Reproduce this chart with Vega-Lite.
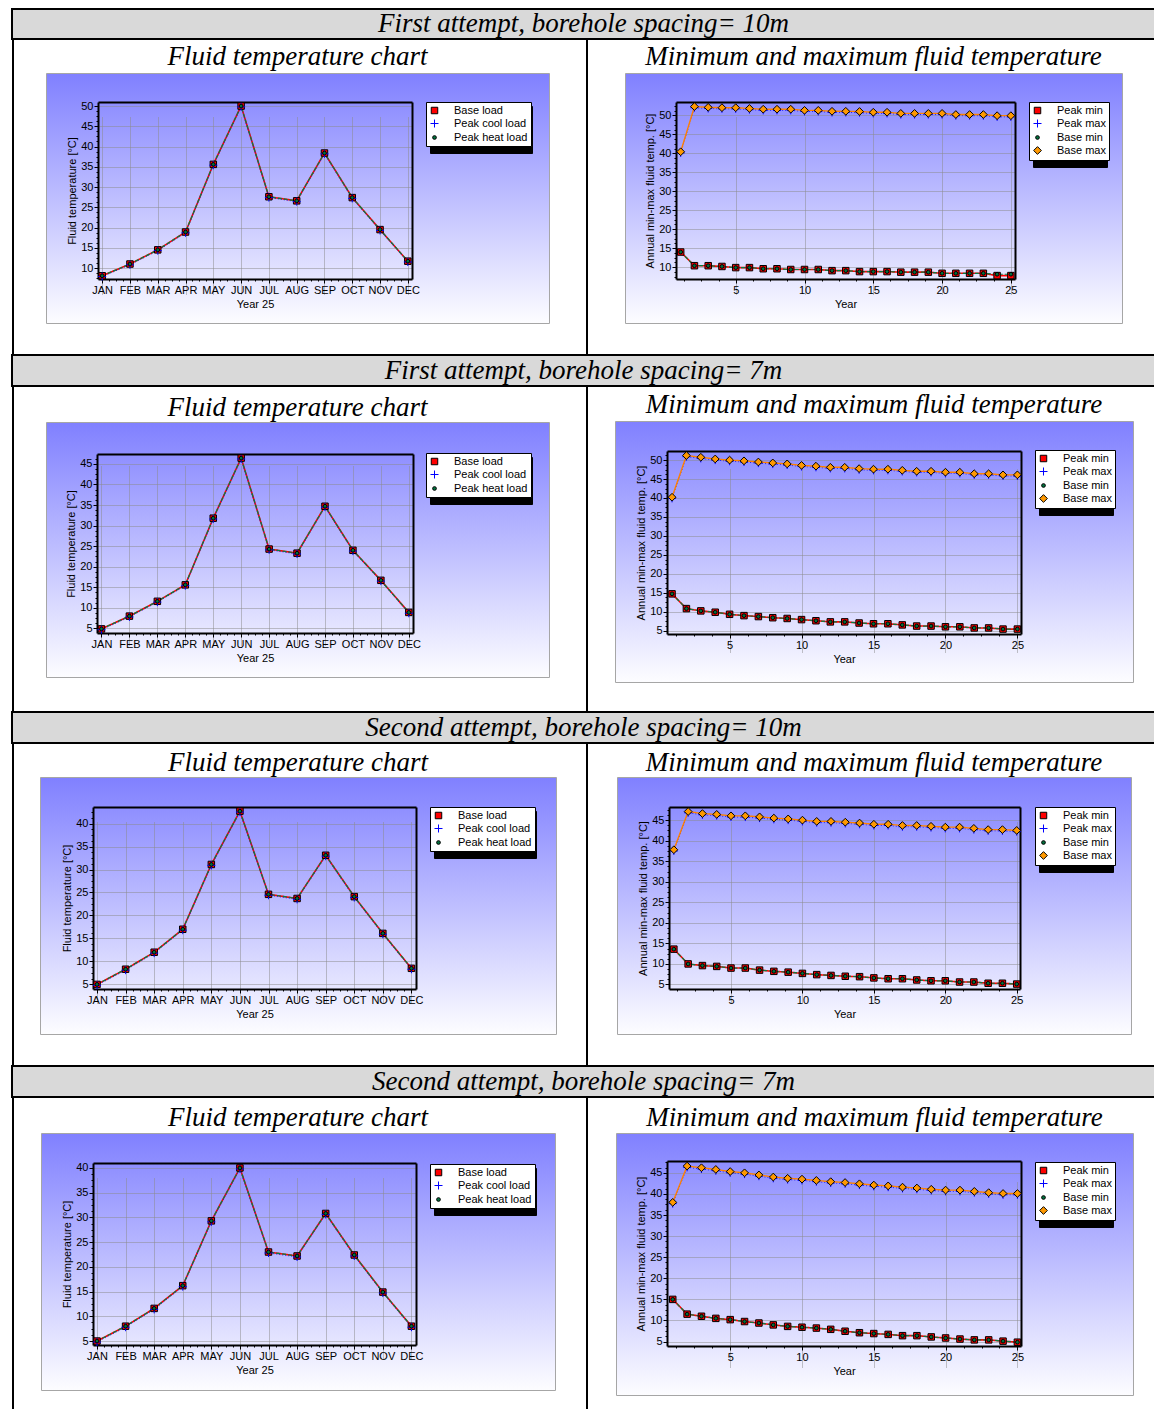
{
"$schema":"https://vega.github.io/schema/vega-lite/v6.json",
"padding":{"left":11,"top":8,"right":0,"bottom":0},
"background":"white",
"spacing":0,
"config":{
 "view":{"stroke":null},
 "axis":{"labelFont":"Liberation Sans","labelFontSize":11,"labelColor":"black","titleFont":"Liberation Sans","titleFontSize":11,"titleFontWeight":"normal","titleColor":"black","domainColor":"black","domainWidth":2,"tickColor":"black","tickWidth":1,"gridColor":"#8a8a8a","gridDash":[1,1],"gridWidth":1,"labelPadding":1,"labelOverlap":false,"labelFlush":false,"titlePadding":3},
 "legend":{"fillColor":"white","strokeColor":"black","padding":3,"labelFont":"Liberation Sans","labelFontSize":11,"labelColor":"black","rowPadding":1,"symbolStrokeWidth":1,"labelOffset":14,"labelLimit":200}
},
"datasets":{
 "m1":[{"m":1,"Base load":8.1,"Peak cool load":7.9,"Peak heat load":8.1},{"m":2,"Base load":11.0,"Peak cool load":10.8,"Peak heat load":11.0},{"m":3,"Base load":14.5,"Peak cool load":14.3,"Peak heat load":14.5},{"m":4,"Base load":18.9,"Peak cool load":18.7,"Peak heat load":18.9},{"m":5,"Base load":35.6,"Peak cool load":35.4,"Peak heat load":35.6},{"m":6,"Base load":50.0,"Peak cool load":49.8,"Peak heat load":50.0},{"m":7,"Base load":27.6,"Peak cool load":27.4,"Peak heat load":27.6},{"m":8,"Base load":26.6,"Peak cool load":26.4,"Peak heat load":26.6},{"m":9,"Base load":38.4,"Peak cool load":38.2,"Peak heat load":38.4},{"m":10,"Base load":27.4,"Peak cool load":27.2,"Peak heat load":27.4},{"m":11,"Base load":19.5,"Peak cool load":19.3,"Peak heat load":19.5},{"m":12,"Base load":11.7,"Peak cool load":11.5,"Peak heat load":11.7}],
 "m2":[{"m":1,"Base load":4.9,"Peak cool load":4.7,"Peak heat load":4.9},{"m":2,"Base load":8.0,"Peak cool load":7.8,"Peak heat load":8.0},{"m":3,"Base load":11.6,"Peak cool load":11.4,"Peak heat load":11.6},{"m":4,"Base load":15.6,"Peak cool load":15.4,"Peak heat load":15.6},{"m":5,"Base load":31.8,"Peak cool load":31.6,"Peak heat load":31.8},{"m":6,"Base load":46.4,"Peak cool load":46.2,"Peak heat load":46.4},{"m":7,"Base load":24.3,"Peak cool load":24.1,"Peak heat load":24.3},{"m":8,"Base load":23.3,"Peak cool load":23.1,"Peak heat load":23.3},{"m":9,"Base load":34.7,"Peak cool load":34.5,"Peak heat load":34.7},{"m":10,"Base load":24.0,"Peak cool load":23.8,"Peak heat load":24.0},{"m":11,"Base load":16.7,"Peak cool load":16.5,"Peak heat load":16.7},{"m":12,"Base load":8.9,"Peak cool load":8.7,"Peak heat load":8.9}],
 "m3":[{"m":1,"Base load":5.0,"Peak cool load":4.8,"Peak heat load":5.0},{"m":2,"Base load":8.3,"Peak cool load":8.1,"Peak heat load":8.3},{"m":3,"Base load":12.0,"Peak cool load":11.8,"Peak heat load":12.0},{"m":4,"Base load":17.0,"Peak cool load":16.8,"Peak heat load":17.0},{"m":5,"Base load":31.1,"Peak cool load":30.9,"Peak heat load":31.1},{"m":6,"Base load":42.7,"Peak cool load":42.5,"Peak heat load":42.7},{"m":7,"Base load":24.6,"Peak cool load":24.4,"Peak heat load":24.6},{"m":8,"Base load":23.7,"Peak cool load":23.5,"Peak heat load":23.7},{"m":9,"Base load":33.1,"Peak cool load":32.9,"Peak heat load":33.1},{"m":10,"Base load":24.1,"Peak cool load":23.9,"Peak heat load":24.1},{"m":11,"Base load":16.1,"Peak cool load":15.9,"Peak heat load":16.1},{"m":12,"Base load":8.5,"Peak cool load":8.3,"Peak heat load":8.5}],
 "m4":[{"m":1,"Base load":5.0,"Peak cool load":4.8,"Peak heat load":5.0},{"m":2,"Base load":8.0,"Peak cool load":7.8,"Peak heat load":8.0},{"m":3,"Base load":11.6,"Peak cool load":11.4,"Peak heat load":11.6},{"m":4,"Base load":16.2,"Peak cool load":16.0,"Peak heat load":16.2},{"m":5,"Base load":29.3,"Peak cool load":29.1,"Peak heat load":29.3},{"m":6,"Base load":40.0,"Peak cool load":39.8,"Peak heat load":40.0},{"m":7,"Base load":23.0,"Peak cool load":22.8,"Peak heat load":23.0},{"m":8,"Base load":22.2,"Peak cool load":22.0,"Peak heat load":22.2},{"m":9,"Base load":30.8,"Peak cool load":30.6,"Peak heat load":30.8},{"m":10,"Base load":22.4,"Peak cool load":22.2,"Peak heat load":22.4},{"m":11,"Base load":14.9,"Peak cool load":14.7,"Peak heat load":14.9},{"m":12,"Base load":8.0,"Peak cool load":7.8,"Peak heat load":8.0}],
 "y1":[{"yr":1,"Peak min":14.0,"Peak max":40.1,"Base min":14.0,"Base max":40.4},{"yr":2,"Peak min":10.4,"Peak max":52.0,"Base min":10.4,"Base max":52.3},{"yr":3,"Peak min":10.4,"Peak max":51.8,"Base min":10.4,"Base max":52.1},{"yr":4,"Peak min":10.2,"Peak max":51.7,"Base min":10.2,"Base max":52.0},{"yr":5,"Peak min":9.9,"Peak max":51.7,"Base min":9.9,"Base max":52.0},{"yr":6,"Peak min":9.9,"Peak max":51.5,"Base min":9.9,"Base max":51.8},{"yr":7,"Peak min":9.6,"Peak max":51.3,"Base min":9.6,"Base max":51.6},{"yr":8,"Peak min":9.6,"Peak max":51.3,"Base min":9.6,"Base max":51.6},{"yr":9,"Peak min":9.4,"Peak max":51.3,"Base min":9.4,"Base max":51.6},{"yr":10,"Peak min":9.4,"Peak max":51.0,"Base min":9.4,"Base max":51.3},{"yr":11,"Peak min":9.4,"Peak max":51.0,"Base min":9.4,"Base max":51.3},{"yr":12,"Peak min":9.1,"Peak max":50.75,"Base min":9.1,"Base max":51.05},{"yr":13,"Peak min":9.1,"Peak max":50.75,"Base min":9.1,"Base max":51.05},{"yr":14,"Peak min":8.85,"Peak max":50.7,"Base min":8.85,"Base max":51.0},{"yr":15,"Peak min":8.85,"Peak max":50.5,"Base min":8.85,"Base max":50.8},{"yr":16,"Peak min":8.85,"Peak max":50.5,"Base min":8.85,"Base max":50.8},{"yr":17,"Peak min":8.7,"Peak max":50.2,"Base min":8.7,"Base max":50.5},{"yr":18,"Peak min":8.7,"Peak max":50.2,"Base min":8.7,"Base max":50.5},{"yr":19,"Peak min":8.7,"Peak max":50.2,"Base min":8.7,"Base max":50.5},{"yr":20,"Peak min":8.4,"Peak max":50.2,"Base min":8.4,"Base max":50.5},{"yr":21,"Peak min":8.4,"Peak max":49.9,"Base min":8.4,"Base max":50.2},{"yr":22,"Peak min":8.4,"Peak max":49.9,"Base min":8.4,"Base max":50.2},{"yr":23,"Peak min":8.4,"Peak max":49.9,"Base min":8.4,"Base max":50.2},{"yr":24,"Peak min":7.8,"Peak max":49.6,"Base min":8.15,"Base max":49.9},{"yr":25,"Peak min":7.8,"Peak max":49.6,"Base min":8.15,"Base max":49.9}],
 "y2":[{"yr":1,"Peak min":14.7,"Peak max":39.9,"Base min":14.7,"Base max":40.2},{"yr":2,"Peak min":10.8,"Peak max":50.9,"Base min":10.8,"Base max":51.2},{"yr":3,"Peak min":10.2,"Peak max":50.45,"Base min":10.2,"Base max":50.75},{"yr":4,"Peak min":9.85,"Peak max":50.0,"Base min":9.85,"Base max":50.3},{"yr":5,"Peak min":9.3,"Peak max":49.7,"Base min":9.3,"Base max":50.0},{"yr":6,"Peak min":8.95,"Peak max":49.5,"Base min":8.95,"Base max":49.8},{"yr":7,"Peak min":8.7,"Peak max":49.2,"Base min":8.7,"Base max":49.5},{"yr":8,"Peak min":8.4,"Peak max":48.95,"Base min":8.4,"Base max":49.25},{"yr":9,"Peak min":8.2,"Peak max":48.7,"Base min":8.2,"Base max":49.0},{"yr":10,"Peak min":7.9,"Peak max":48.3,"Base min":7.9,"Base max":48.6},{"yr":11,"Peak min":7.6,"Peak max":48.1,"Base min":7.6,"Base max":48.4},{"yr":12,"Peak min":7.3,"Peak max":47.8,"Base min":7.3,"Base max":48.1},{"yr":13,"Peak min":7.3,"Peak max":47.8,"Base min":7.3,"Base max":48.1},{"yr":14,"Peak min":7.0,"Peak max":47.45,"Base min":7.0,"Base max":47.75},{"yr":15,"Peak min":6.8,"Peak max":47.3,"Base min":6.8,"Base max":47.6},{"yr":16,"Peak min":6.8,"Peak max":47.3,"Base min":6.8,"Base max":47.6},{"yr":17,"Peak min":6.5,"Peak max":47.0,"Base min":6.5,"Base max":47.3},{"yr":18,"Peak min":6.2,"Peak max":46.75,"Base min":6.2,"Base max":47.05},{"yr":19,"Peak min":6.2,"Peak max":46.75,"Base min":6.2,"Base max":47.05},{"yr":20,"Peak min":6.0,"Peak max":46.5,"Base min":6.0,"Base max":46.8},{"yr":21,"Peak min":6.0,"Peak max":46.5,"Base min":6.0,"Base max":46.8},{"yr":22,"Peak min":5.7,"Peak max":46.1,"Base min":5.7,"Base max":46.4},{"yr":23,"Peak min":5.7,"Peak max":46.1,"Base min":5.7,"Base max":46.4},{"yr":24,"Peak min":5.4,"Peak max":45.8,"Base min":5.4,"Base max":46.1},{"yr":25,"Peak min":5.4,"Peak max":45.8,"Base min":5.4,"Base max":46.1}],
 "y3":[{"yr":1,"Peak min":13.6,"Peak max":37.5,"Base min":13.6,"Base max":37.8},{"yr":2,"Peak min":10.0,"Peak max":46.8,"Base min":10.0,"Base max":47.1},{"yr":3,"Peak min":9.6,"Peak max":46.3,"Base min":9.6,"Base max":46.6},{"yr":4,"Peak min":9.4,"Peak max":46.1,"Base min":9.4,"Base max":46.4},{"yr":5,"Peak min":9.0,"Peak max":45.75,"Base min":9.0,"Base max":46.05},{"yr":6,"Peak min":9.0,"Peak max":45.75,"Base min":9.0,"Base max":46.05},{"yr":7,"Peak min":8.5,"Peak max":45.5,"Base min":8.5,"Base max":45.8},{"yr":8,"Peak min":8.2,"Peak max":45.2,"Base min":8.2,"Base max":45.5},{"yr":9,"Peak min":8.0,"Peak max":45.0,"Base min":8.0,"Base max":45.3},{"yr":10,"Peak min":7.7,"Peak max":44.7,"Base min":7.7,"Base max":45.0},{"yr":11,"Peak min":7.4,"Peak max":44.4,"Base min":7.4,"Base max":44.7},{"yr":12,"Peak min":7.2,"Peak max":44.4,"Base min":7.2,"Base max":44.7},{"yr":13,"Peak min":7.0,"Peak max":44.2,"Base min":7.0,"Base max":44.5},{"yr":14,"Peak min":6.9,"Peak max":44.0,"Base min":6.9,"Base max":44.3},{"yr":15,"Peak min":6.6,"Peak max":43.7,"Base min":6.6,"Base max":44.0},{"yr":16,"Peak min":6.4,"Peak max":43.7,"Base min":6.4,"Base max":44.0},{"yr":17,"Peak min":6.4,"Peak max":43.4,"Base min":6.4,"Base max":43.7},{"yr":18,"Peak min":6.1,"Peak max":43.4,"Base min":6.1,"Base max":43.7},{"yr":19,"Peak min":5.9,"Peak max":43.2,"Base min":5.9,"Base max":43.5},{"yr":20,"Peak min":5.9,"Peak max":43.0,"Base min":5.9,"Base max":43.3},{"yr":21,"Peak min":5.6,"Peak max":43.0,"Base min":5.6,"Base max":43.3},{"yr":22,"Peak min":5.6,"Peak max":42.7,"Base min":5.6,"Base max":43.0},{"yr":23,"Peak min":5.3,"Peak max":42.4,"Base min":5.3,"Base max":42.7},{"yr":24,"Peak min":5.3,"Peak max":42.4,"Base min":5.3,"Base max":42.7},{"yr":25,"Peak min":5.1,"Peak max":42.2,"Base min":5.1,"Base max":42.5}],
 "y4":[{"yr":1,"Peak min":15.0,"Peak max":37.7,"Base min":15.0,"Base max":38.0},{"yr":2,"Peak min":11.5,"Peak max":46.3,"Base min":11.5,"Base max":46.6},{"yr":3,"Peak min":11.0,"Peak max":45.9,"Base min":11.0,"Base max":46.2},{"yr":4,"Peak min":10.5,"Peak max":45.5,"Base min":10.5,"Base max":45.8},{"yr":5,"Peak min":10.2,"Peak max":45.0,"Base min":10.2,"Base max":45.3},{"yr":6,"Peak min":9.75,"Peak max":44.7,"Base min":9.75,"Base max":45.0},{"yr":7,"Peak min":9.4,"Peak max":44.2,"Base min":9.4,"Base max":44.5},{"yr":8,"Peak min":8.95,"Peak max":43.7,"Base min":8.95,"Base max":44.0},{"yr":9,"Peak min":8.6,"Peak max":43.4,"Base min":8.6,"Base max":43.7},{"yr":10,"Peak min":8.4,"Peak max":43.2,"Base min":8.4,"Base max":43.5},{"yr":11,"Peak min":8.2,"Peak max":42.9,"Base min":8.2,"Base max":43.2},{"yr":12,"Peak min":7.9,"Peak max":42.6,"Base min":7.9,"Base max":42.9},{"yr":13,"Peak min":7.45,"Peak max":42.4,"Base min":7.45,"Base max":42.7},{"yr":14,"Peak min":7.1,"Peak max":42.1,"Base min":7.1,"Base max":42.4},{"yr":15,"Peak min":6.9,"Peak max":41.8,"Base min":6.9,"Base max":42.1},{"yr":16,"Peak min":6.7,"Peak max":41.6,"Base min":6.7,"Base max":41.9},{"yr":17,"Peak min":6.4,"Peak max":41.3,"Base min":6.4,"Base max":41.6},{"yr":18,"Peak min":6.4,"Peak max":41.1,"Base min":6.4,"Base max":41.4},{"yr":19,"Peak min":6.1,"Peak max":40.8,"Base min":6.1,"Base max":41.1},{"yr":20,"Peak min":5.85,"Peak max":40.6,"Base min":5.85,"Base max":40.9},{"yr":21,"Peak min":5.6,"Peak max":40.6,"Base min":5.6,"Base max":40.9},{"yr":22,"Peak min":5.4,"Peak max":40.3,"Base min":5.4,"Base max":40.6},{"yr":23,"Peak min":5.4,"Peak max":40.0,"Base min":5.4,"Base max":40.3},{"yr":24,"Peak min":5.1,"Peak max":39.8,"Base min":5.1,"Base max":40.1},{"yr":25,"Peak min":4.85,"Peak max":39.8,"Base min":4.85,"Base max":40.1}]
},
"resolve":{"scale":{"color":"independent","fill":"independent","stroke":"independent","shape":"independent","size":"independent","strokeDash":"independent","strokeWidth":"independent"}},
"vconcat":[
 {"width":1143,"height":30,"view":{"fill":"#d9d9d9","stroke":"black","strokeWidth":2},"data":{"values":[{"t":"First attempt, borehole spacing= 10m"}]},"mark":{"type":"text","font":"Liberation Serif","fontStyle":"italic","fontSize":27,"color":"black"},"encoding":{"text":{"field":"t"}}},
 {"spacing":36,"resolve":{"scale":{"color":"independent","fill":"independent","stroke":"independent","shape":"independent","size":"independent","strokeDash":"independent","strokeWidth":"independent"}},
  "hconcat":[
  {"spacing":31,"resolve":{"scale":{"color":"independent","fill":"independent","stroke":"independent","shape":"independent","size":"independent","strokeDash":"independent","strokeWidth":"independent"}},"hconcat":[
   {"width":2,"height":314,"view":{"fill":"black"},"data":{"values":[]},"mark":"rect","encoding":{}},
   {"spacing":0,"resolve":{"scale":{"color":"independent","fill":"independent","stroke":"independent","shape":"independent","size":"independent","strokeDash":"independent","strokeWidth":"independent"}},"vconcat":[
    {"width":503,"height":32,"data":{"values":[{"t":"Fluid temperature chart"}]},"mark":{"type":"text","font":"Liberation Serif","fontStyle":"italic","fontSize":27,"color":"black","dy":1},"encoding":{"text":{"field":"t"}}},
    {"width":503,"height":250,
     "view":{"fill":{"gradient":"linear","x1":0,"y1":0,"x2":0,"y2":1,"stops":[{"offset":0,"color":"#8080ff"},{"offset":1,"color":"#fdfdff"}]},"stroke":"#a6a6a6"},
     "data":{"name":"m1"},
     "transform":[{"fold":["Base load","Peak cool load","Peak heat load"],"as":["series","temp"]}],
     "layer":[
      {"mark":{"type":"line"},
       "encoding":{
        "x":{"field":"m","type":"quantitative","scale":{"domain":[0.85,12.15],"range":[52,366],"nice":false,"zero":false},
         "axis":{"orient":"bottom","offset":-44,"title":"Year 25","values":[1,1.25,1.5,1.75,2,2.25,2.5,2.75,3,3.25,3.5,3.75,4,4.25,4.5,4.75,5,5.25,5.5,5.75,6,6.25,6.5,6.75,7,7.25,7.5,7.75,8,8.25,8.5,8.75,9,9.25,9.5,9.75,10,10.25,10.5,10.75,11,11.25,11.5,11.75,12],"labelExpr":"datum.value % 1 == 0 ? ['JAN','FEB','MAR','APR','MAY','JUN','JUL','AUG','SEP','OCT','NOV','DEC'][datum.value - 1] : ''","tickSize":{"condition":{"test":"datum.value % 1 != 0","value":2},"value":4},"gridOpacity":{"condition":{"test":"datum.value % 1 != 0","value":0},"value":1}}},
        "y":{"field":"temp","type":"quantitative","scale":{"domain":[7.3,51],"range":[206,29],"nice":false,"zero":false},
         "axis":{"orient":"left","offset":-52,"title":"Fluid temperature [°C]","values":[7.5,8.75,10,11.25,12.5,13.75,15,16.25,17.5,18.75,20,21.25,22.5,23.75,25,26.25,27.5,28.75,30,31.25,32.5,33.75,35,36.25,37.5,38.75,40,41.25,42.5,43.75,45,46.25,47.5,48.75,50],"labelExpr":"datum.value % 5 == 0 ? datum.label : ''","tickSize":{"condition":{"test":"datum.value % 5 != 0","value":2},"value":4},"gridOpacity":{"condition":{"test":"datum.value % 5 != 0","value":0},"value":1}}},
        "color":{"field":"series","type":"nominal","scale":{"domain":["Peak heat load","Peak cool load","Base load"],"range":["#008040","#0000ff","#ff0000"]},"legend":{"orient":"none","legendX":384,"legendY":33,"title":null,"fillColor":"black","strokeColor":"black","labelExpr":"''","symbolType":"square","symbolSize":151,"symbolFillColor":"black","symbolStrokeWidth":0,"labelOffset":83}},
        "strokeDash":{"field":"series","type":"nominal","scale":{"domain":["Peak heat load","Peak cool load","Base load"],"range":[[4,2],[1,2],[1,0]]},"legend":{"orient":"none","legendX":384,"legendY":33,"title":null,"fillColor":"black","strokeColor":"black","labelExpr":"''","symbolType":"square","symbolSize":151,"symbolFillColor":"black","symbolStrokeWidth":0,"labelOffset":83}},
        "strokeWidth":{"field":"series","type":"nominal","scale":{"type":"ordinal","domain":["Peak cool load","Base load","Peak heat load"],"range":[0.8,1.6,1.2]},"legend":null}}},
      {"mark":{"type":"point","filled":true,"opacity":1,"strokeWidth":1},
       "encoding":{
        "x":{"field":"m","type":"quantitative","axis":{"orient":"top","offset":-29,"labels":false,"ticks":false,"grid":false,"title":null,"values":[]}},
        "y":{"field":"temp","type":"quantitative","axis":{"orient":"right","offset":-137,"labels":false,"ticks":false,"grid":false,"title":null,"values":[]}},
        "shape":{"field":"series","type":"nominal","scale":{"domain":["Base load","Peak cool load","Peak heat load"],"range":["square","M-1,0H1M0,-1V1","circle"]},"legend":{"orient":"none","legendX":380,"legendY":29,"title":null}},
        "fill":{"field":"series","type":"nominal","scale":{"domain":["Base load","Peak cool load","Peak heat load"],"range":["#ff0000","#0000ff","#00703c"]},"legend":{"orient":"none","legendX":380,"legendY":29,"title":null}},
        "stroke":{"field":"series","type":"nominal","scale":{"domain":["Base load","Peak cool load","Peak heat load"],"range":["#000000","#0000ff","#000000"]},"legend":{"orient":"none","legendX":380,"legendY":29,"title":null}},
        "size":{"field":"series","type":"nominal","scale":{"type":"ordinal","domain":["Base load","Peak cool load","Peak heat load"],"range":[42,64,14]},"legend":{"orient":"none","legendX":380,"legendY":29,"title":null}}}}
     ],
     "resolve":{"axis":{"x":"independent","y":"independent"}}}
   ]}
  ]},
  {"spacing":36,"resolve":{"scale":{"color":"independent","fill":"independent","stroke":"independent","shape":"independent","size":"independent","strokeDash":"independent","strokeWidth":"independent"}},"hconcat":[
   {"width":2,"height":314,"view":{"fill":"black"},"data":{"values":[]},"mark":"rect","encoding":{}},
   {"spacing":0,"resolve":{"scale":{"color":"independent","fill":"independent","stroke":"independent","shape":"independent","size":"independent","strokeDash":"independent","strokeWidth":"independent"}},"vconcat":[
    {"width":497,"height":32,"data":{"values":[{"t":"Minimum and maximum fluid temperature"}]},"mark":{"type":"text","font":"Liberation Serif","fontStyle":"italic","fontSize":27,"color":"black","dy":1},"encoding":{"text":{"field":"t"}}},
    {"width":497,"height":250,
     "view":{"fill":{"gradient":"linear","x1":0,"y1":0,"x2":0,"y2":1,"stops":[{"offset":0,"color":"#8080ff"},{"offset":1,"color":"#fdfdff"}]},"stroke":"#a6a6a6"},
     "data":{"name":"y1"},
     "transform":[{"fold":["Peak min","Peak max","Base min","Base max"],"as":["series","temp"]}],
     "layer":[
      {"mark":{"type":"line"},
       "encoding":{
        "x":{"field":"yr","type":"quantitative","scale":{"domain":[0.66,25.3],"range":[51,390],"nice":false,"zero":false},
         "axis":{"orient":"bottom","offset":-44,"title":"Year","values":[1.25,2.5,3.75,5,6.25,7.5,8.75,10,11.25,12.5,13.75,15,16.25,17.5,18.75,20,21.25,22.5,23.75,25],"labelExpr":"datum.value % 5 == 0 ? datum.label : ''","tickSize":{"condition":{"test":"datum.value % 5 != 0","value":2},"value":4},"gridOpacity":{"condition":{"test":"datum.value % 5 != 0","value":0},"value":1}}},
        "y":{"field":"temp","type":"quantitative","scale":{"domain":[6.9,53.5],"range":[206,29],"nice":false,"zero":false},
         "axis":{"orient":"left","offset":-51,"title":"Annual min-max fluid temp. [°C]","values":[7.5,8.75,10,11.25,12.5,13.75,15,16.25,17.5,18.75,20,21.25,22.5,23.75,25,26.25,27.5,28.75,30,31.25,32.5,33.75,35,36.25,37.5,38.75,40,41.25,42.5,43.75,45,46.25,47.5,48.75,50,51.25,52.5],"labelExpr":"datum.value % 5 == 0 ? datum.label : ''","tickSize":{"condition":{"test":"datum.value % 5 != 0","value":2},"value":4},"gridOpacity":{"condition":{"test":"datum.value % 5 != 0","value":0},"value":1}}},
        "color":{"field":"series","type":"nominal","scale":{"domain":["Base max","Base min","Peak max","Peak min"],"range":["#ff8000","#008040","#0000ff","#ff0000"]},"legend":{"orient":"none","legendX":408,"legendY":33,"title":null,"fillColor":"black","strokeColor":"black","labelExpr":"''","symbolType":"square","symbolSize":151,"symbolFillColor":"black","symbolStrokeWidth":0,"labelOffset":55}},
        "strokeDash":{"field":"series","type":"nominal","scale":{"domain":["Base max","Base min","Peak max","Peak min"],"range":[[1,0],[4,2],[1,2],[1,0]]},"legend":{"orient":"none","legendX":408,"legendY":33,"title":null,"fillColor":"black","strokeColor":"black","labelExpr":"''","symbolType":"square","symbolSize":151,"symbolFillColor":"black","symbolStrokeWidth":0,"labelOffset":55}},
        "strokeWidth":{"field":"series","type":"nominal","scale":{"type":"ordinal","domain":["Peak max","Peak min","Base min","Base max"],"range":[0.8,1.6,1.2,1.4]},"legend":null}}},
      {"mark":{"type":"point","filled":true,"opacity":1,"strokeWidth":1},
       "encoding":{
        "x":{"field":"yr","type":"quantitative","axis":{"orient":"top","offset":-29,"labels":false,"ticks":false,"grid":false,"title":null,"values":[]}},
        "y":{"field":"temp","type":"quantitative","axis":{"orient":"right","offset":-107,"labels":false,"ticks":false,"grid":false,"title":null,"values":[]}},
        "shape":{"field":"series","type":"nominal","scale":{"domain":["Peak min","Peak max","Base min","Base max"],"range":["square","M-1,0H1M0,-1V1","circle","diamond"]},"legend":{"orient":"none","legendX":404,"legendY":29,"title":null}},
        "fill":{"field":"series","type":"nominal","scale":{"domain":["Peak min","Peak max","Base min","Base max"],"range":["#ff0000","#0000ff","#00703c","#ff9900"]},"legend":{"orient":"none","legendX":404,"legendY":29,"title":null}},
        "stroke":{"field":"series","type":"nominal","scale":{"domain":["Peak min","Peak max","Base min","Base max"],"range":["#000000","#0000ff","#000000","#000000"]},"legend":{"orient":"none","legendX":404,"legendY":29,"title":null}},
        "size":{"field":"series","type":"nominal","scale":{"type":"ordinal","domain":["Peak min","Peak max","Base min","Base max"],"range":[42,64,14,60]},"legend":{"orient":"none","legendX":404,"legendY":29,"title":null}}}}
     ],
     "resolve":{"axis":{"x":"independent","y":"independent"}}}
   ]}
  ]}
 ]},
 {"width":1143,"height":31,"view":{"fill":"#d9d9d9","stroke":"black","strokeWidth":2},"data":{"values":[{"t":"First attempt, borehole spacing= 7m"}]},"mark":{"type":"text","font":"Liberation Serif","fontStyle":"italic","fontSize":27,"color":"black"},"encoding":{"text":{"field":"t"}}},
 {"spacing":36,"resolve":{"scale":{"color":"independent","fill":"independent","stroke":"independent","shape":"independent","size":"independent","strokeDash":"independent","strokeWidth":"independent"}},
  "hconcat":[
  {"spacing":31,"resolve":{"scale":{"color":"independent","fill":"independent","stroke":"independent","shape":"independent","size":"independent","strokeDash":"independent","strokeWidth":"independent"}},"hconcat":[
   {"width":2,"height":324,"view":{"fill":"black"},"data":{"values":[]},"mark":"rect","encoding":{}},
   {"spacing":0,"resolve":{"scale":{"color":"independent","fill":"independent","stroke":"independent","shape":"independent","size":"independent","strokeDash":"independent","strokeWidth":"independent"}},"vconcat":[
    {"width":503,"height":33,"data":{"values":[{"t":"Fluid temperature chart"}]},"mark":{"type":"text","font":"Liberation Serif","fontStyle":"italic","fontSize":27,"color":"black","dy":4},"encoding":{"text":{"field":"t"}}},
    {"width":503,"height":255,
     "view":{"fill":{"gradient":"linear","x1":0,"y1":0,"x2":0,"y2":1,"stops":[{"offset":0,"color":"#8080ff"},{"offset":1,"color":"#fdfdff"}]},"stroke":"#a6a6a6"},
     "data":{"name":"m2"},
     "transform":[{"fold":["Base load","Peak cool load","Peak heat load"],"as":["series","temp"]}],
     "layer":[
      {"mark":{"type":"line"},
       "encoding":{
        "x":{"field":"m","type":"quantitative","scale":{"domain":[0.84,12.15],"range":[51,367],"nice":false,"zero":false},
         "axis":{"orient":"bottom","offset":-44,"title":"Year 25","values":[1,1.25,1.5,1.75,2,2.25,2.5,2.75,3,3.25,3.5,3.75,4,4.25,4.5,4.75,5,5.25,5.5,5.75,6,6.25,6.5,6.75,7,7.25,7.5,7.75,8,8.25,8.5,8.75,9,9.25,9.5,9.75,10,10.25,10.5,10.75,11,11.25,11.5,11.75,12],"labelExpr":"datum.value % 1 == 0 ? ['JAN','FEB','MAR','APR','MAY','JUN','JUL','AUG','SEP','OCT','NOV','DEC'][datum.value - 1] : ''","tickSize":{"condition":{"test":"datum.value % 1 != 0","value":2},"value":4},"gridOpacity":{"condition":{"test":"datum.value % 1 != 0","value":0},"value":1}}},
        "y":{"field":"temp","type":"quantitative","scale":{"domain":[3.9,47.4],"range":[211,32],"nice":false,"zero":false},
         "axis":{"orient":"left","offset":-51,"title":"Fluid temperature [°C]","values":[5,6.25,7.5,8.75,10,11.25,12.5,13.75,15,16.25,17.5,18.75,20,21.25,22.5,23.75,25,26.25,27.5,28.75,30,31.25,32.5,33.75,35,36.25,37.5,38.75,40,41.25,42.5,43.75,45,46.25],"labelExpr":"datum.value % 5 == 0 ? datum.label : ''","tickSize":{"condition":{"test":"datum.value % 5 != 0","value":2},"value":4},"gridOpacity":{"condition":{"test":"datum.value % 5 != 0","value":0},"value":1}}},
        "color":{"field":"series","type":"nominal","scale":{"domain":["Peak heat load","Peak cool load","Base load"],"range":["#008040","#0000ff","#ff0000"]},"legend":{"orient":"none","legendX":384,"legendY":35,"title":null,"fillColor":"black","strokeColor":"black","labelExpr":"''","symbolType":"square","symbolSize":151,"symbolFillColor":"black","symbolStrokeWidth":0,"labelOffset":83}},
        "strokeDash":{"field":"series","type":"nominal","scale":{"domain":["Peak heat load","Peak cool load","Base load"],"range":[[4,2],[1,2],[1,0]]},"legend":{"orient":"none","legendX":384,"legendY":35,"title":null,"fillColor":"black","strokeColor":"black","labelExpr":"''","symbolType":"square","symbolSize":151,"symbolFillColor":"black","symbolStrokeWidth":0,"labelOffset":83}},
        "strokeWidth":{"field":"series","type":"nominal","scale":{"type":"ordinal","domain":["Peak cool load","Base load","Peak heat load"],"range":[0.8,1.6,1.2]},"legend":null}}},
      {"mark":{"type":"point","filled":true,"opacity":1,"strokeWidth":1},
       "encoding":{
        "x":{"field":"m","type":"quantitative","axis":{"orient":"top","offset":-32,"labels":false,"ticks":false,"grid":false,"title":null,"values":[]}},
        "y":{"field":"temp","type":"quantitative","axis":{"orient":"right","offset":-136,"labels":false,"ticks":false,"grid":false,"title":null,"values":[]}},
        "shape":{"field":"series","type":"nominal","scale":{"domain":["Base load","Peak cool load","Peak heat load"],"range":["square","M-1,0H1M0,-1V1","circle"]},"legend":{"orient":"none","legendX":380,"legendY":31,"title":null}},
        "fill":{"field":"series","type":"nominal","scale":{"domain":["Base load","Peak cool load","Peak heat load"],"range":["#ff0000","#0000ff","#00703c"]},"legend":{"orient":"none","legendX":380,"legendY":31,"title":null}},
        "stroke":{"field":"series","type":"nominal","scale":{"domain":["Base load","Peak cool load","Peak heat load"],"range":["#000000","#0000ff","#000000"]},"legend":{"orient":"none","legendX":380,"legendY":31,"title":null}},
        "size":{"field":"series","type":"nominal","scale":{"type":"ordinal","domain":["Base load","Peak cool load","Peak heat load"],"range":[42,64,14]},"legend":{"orient":"none","legendX":380,"legendY":31,"title":null}}}}
     ],
     "resolve":{"axis":{"x":"independent","y":"independent"}}}
   ]}
  ]},
  {"spacing":26,"resolve":{"scale":{"color":"independent","fill":"independent","stroke":"independent","shape":"independent","size":"independent","strokeDash":"independent","strokeWidth":"independent"}},"hconcat":[
   {"width":2,"height":324,"view":{"fill":"black"},"data":{"values":[]},"mark":"rect","encoding":{}},
   {"spacing":0,"resolve":{"scale":{"color":"independent","fill":"independent","stroke":"independent","shape":"independent","size":"independent","strokeDash":"independent","strokeWidth":"independent"}},"vconcat":[
    {"width":518,"height":33,"data":{"values":[{"t":"Minimum and maximum fluid temperature"}]},"mark":{"type":"text","font":"Liberation Serif","fontStyle":"italic","fontSize":27,"color":"black","dy":1},"encoding":{"text":{"field":"t"}}},
    {"width":518,"height":261,
     "view":{"fill":{"gradient":"linear","x1":0,"y1":0,"x2":0,"y2":1,"stops":[{"offset":0,"color":"#8080ff"},{"offset":1,"color":"#fdfdff"}]},"stroke":"#a6a6a6"},
     "data":{"name":"y2"},
     "transform":[{"fold":["Peak min","Peak max","Base min","Base max"],"as":["series","temp"]}],
     "layer":[
      {"mark":{"type":"line"},
       "encoding":{
        "x":{"field":"yr","type":"quantitative","scale":{"domain":[0.65,25.25],"range":[52,406],"nice":false,"zero":false},
         "axis":{"orient":"bottom","offset":-48,"title":"Year","values":[1.25,2.5,3.75,5,6.25,7.5,8.75,10,11.25,12.5,13.75,15,16.25,17.5,18.75,20,21.25,22.5,23.75,25],"labelExpr":"datum.value % 5 == 0 ? datum.label : ''","tickSize":{"condition":{"test":"datum.value % 5 != 0","value":2},"value":4},"gridOpacity":{"condition":{"test":"datum.value % 5 != 0","value":0},"value":1}}},
        "y":{"field":"temp","type":"quantitative","scale":{"domain":[4.1,52.4],"range":[213,30],"nice":false,"zero":false},
         "axis":{"orient":"left","offset":-52,"title":"Annual min-max fluid temp. [°C]","values":[5,6.25,7.5,8.75,10,11.25,12.5,13.75,15,16.25,17.5,18.75,20,21.25,22.5,23.75,25,26.25,27.5,28.75,30,31.25,32.5,33.75,35,36.25,37.5,38.75,40,41.25,42.5,43.75,45,46.25,47.5,48.75,50,51.25],"labelExpr":"datum.value % 5 == 0 ? datum.label : ''","tickSize":{"condition":{"test":"datum.value % 5 != 0","value":2},"value":4},"gridOpacity":{"condition":{"test":"datum.value % 5 != 0","value":0},"value":1}}},
        "color":{"field":"series","type":"nominal","scale":{"domain":["Base max","Base min","Peak max","Peak min"],"range":["#ff8000","#008040","#0000ff","#ff0000"]},"legend":{"orient":"none","legendX":424,"legendY":33,"title":null,"fillColor":"black","strokeColor":"black","labelExpr":"''","symbolType":"square","symbolSize":151,"symbolFillColor":"black","symbolStrokeWidth":0,"labelOffset":55}},
        "strokeDash":{"field":"series","type":"nominal","scale":{"domain":["Base max","Base min","Peak max","Peak min"],"range":[[1,0],[4,2],[1,2],[1,0]]},"legend":{"orient":"none","legendX":424,"legendY":33,"title":null,"fillColor":"black","strokeColor":"black","labelExpr":"''","symbolType":"square","symbolSize":151,"symbolFillColor":"black","symbolStrokeWidth":0,"labelOffset":55}},
        "strokeWidth":{"field":"series","type":"nominal","scale":{"type":"ordinal","domain":["Peak max","Peak min","Base min","Base max"],"range":[0.8,1.6,1.2,1.4]},"legend":null}}},
      {"mark":{"type":"point","filled":true,"opacity":1,"strokeWidth":1},
       "encoding":{
        "x":{"field":"yr","type":"quantitative","axis":{"orient":"top","offset":-30,"labels":false,"ticks":false,"grid":false,"title":null,"values":[]}},
        "y":{"field":"temp","type":"quantitative","axis":{"orient":"right","offset":-112,"labels":false,"ticks":false,"grid":false,"title":null,"values":[]}},
        "shape":{"field":"series","type":"nominal","scale":{"domain":["Peak min","Peak max","Base min","Base max"],"range":["square","M-1,0H1M0,-1V1","circle","diamond"]},"legend":{"orient":"none","legendX":420,"legendY":29,"title":null}},
        "fill":{"field":"series","type":"nominal","scale":{"domain":["Peak min","Peak max","Base min","Base max"],"range":["#ff0000","#0000ff","#00703c","#ff9900"]},"legend":{"orient":"none","legendX":420,"legendY":29,"title":null}},
        "stroke":{"field":"series","type":"nominal","scale":{"domain":["Peak min","Peak max","Base min","Base max"],"range":["#000000","#0000ff","#000000","#000000"]},"legend":{"orient":"none","legendX":420,"legendY":29,"title":null}},
        "size":{"field":"series","type":"nominal","scale":{"type":"ordinal","domain":["Peak min","Peak max","Base min","Base max"],"range":[42,64,14,60]},"legend":{"orient":"none","legendX":420,"legendY":29,"title":null}}}}
     ],
     "resolve":{"axis":{"x":"independent","y":"independent"}}}
   ]}
  ]}
 ]},
 {"width":1143,"height":31,"view":{"fill":"#d9d9d9","stroke":"black","strokeWidth":2},"data":{"values":[{"t":"Second attempt, borehole spacing= 10m"}]},"mark":{"type":"text","font":"Liberation Serif","fontStyle":"italic","fontSize":27,"color":"black"},"encoding":{"text":{"field":"t"}}},
 {"spacing":29,"resolve":{"scale":{"color":"independent","fill":"independent","stroke":"independent","shape":"independent","size":"independent","strokeDash":"independent","strokeWidth":"independent"}},
  "hconcat":[
  {"spacing":25,"resolve":{"scale":{"color":"independent","fill":"independent","stroke":"independent","shape":"independent","size":"independent","strokeDash":"independent","strokeWidth":"independent"}},"hconcat":[
   {"width":2,"height":321,"view":{"fill":"black"},"data":{"values":[]},"mark":"rect","encoding":{}},
   {"spacing":0,"resolve":{"scale":{"color":"independent","fill":"independent","stroke":"independent","shape":"independent","size":"independent","strokeDash":"independent","strokeWidth":"independent"}},"vconcat":[
    {"width":516,"height":32,"data":{"values":[{"t":"Fluid temperature chart"}]},"mark":{"type":"text","font":"Liberation Serif","fontStyle":"italic","fontSize":27,"color":"black","dy":3},"encoding":{"text":{"field":"t"}}},
    {"width":516,"height":257,
     "view":{"fill":{"gradient":"linear","x1":0,"y1":0,"x2":0,"y2":1,"stops":[{"offset":0,"color":"#8080ff"},{"offset":1,"color":"#fdfdff"}]},"stroke":"#a6a6a6"},
     "data":{"name":"m3"},
     "transform":[{"fold":["Base load","Peak cool load","Peak heat load"],"as":["series","temp"]}],
     "layer":[
      {"mark":{"type":"line"},
       "encoding":{
        "x":{"field":"m","type":"quantitative","scale":{"domain":[0.86,12.16],"range":[53,376],"nice":false,"zero":false},
         "axis":{"orient":"bottom","offset":-45,"title":"Year 25","values":[1,1.25,1.5,1.75,2,2.25,2.5,2.75,3,3.25,3.5,3.75,4,4.25,4.5,4.75,5,5.25,5.5,5.75,6,6.25,6.5,6.75,7,7.25,7.5,7.75,8,8.25,8.5,8.75,9,9.25,9.5,9.75,10,10.25,10.5,10.75,11,11.25,11.5,11.75,12],"labelExpr":"datum.value % 1 == 0 ? ['JAN','FEB','MAR','APR','MAY','JUN','JUL','AUG','SEP','OCT','NOV','DEC'][datum.value - 1] : ''","tickSize":{"condition":{"test":"datum.value % 1 != 0","value":2},"value":4},"gridOpacity":{"condition":{"test":"datum.value % 1 != 0","value":0},"value":1}}},
        "y":{"field":"temp","type":"quantitative","scale":{"domain":[4.0,43.6],"range":[212,30],"nice":false,"zero":false},
         "axis":{"orient":"left","offset":-53,"title":"Fluid temperature [°C]","values":[5,6.25,7.5,8.75,10,11.25,12.5,13.75,15,16.25,17.5,18.75,20,21.25,22.5,23.75,25,26.25,27.5,28.75,30,31.25,32.5,33.75,35,36.25,37.5,38.75,40,41.25,42.5],"labelExpr":"datum.value % 5 == 0 ? datum.label : ''","tickSize":{"condition":{"test":"datum.value % 5 != 0","value":2},"value":4},"gridOpacity":{"condition":{"test":"datum.value % 5 != 0","value":0},"value":1}}},
        "color":{"field":"series","type":"nominal","scale":{"domain":["Peak heat load","Peak cool load","Base load"],"range":["#008040","#0000ff","#ff0000"]},"legend":{"orient":"none","legendX":394,"legendY":34,"title":null,"fillColor":"black","strokeColor":"black","labelExpr":"''","symbolType":"square","symbolSize":151,"symbolFillColor":"black","symbolStrokeWidth":0,"labelOffset":83}},
        "strokeDash":{"field":"series","type":"nominal","scale":{"domain":["Peak heat load","Peak cool load","Base load"],"range":[[4,2],[1,2],[1,0]]},"legend":{"orient":"none","legendX":394,"legendY":34,"title":null,"fillColor":"black","strokeColor":"black","labelExpr":"''","symbolType":"square","symbolSize":151,"symbolFillColor":"black","symbolStrokeWidth":0,"labelOffset":83}},
        "strokeWidth":{"field":"series","type":"nominal","scale":{"type":"ordinal","domain":["Peak cool load","Base load","Peak heat load"],"range":[0.8,1.6,1.2]},"legend":null}}},
      {"mark":{"type":"point","filled":true,"opacity":1,"strokeWidth":1},
       "encoding":{
        "x":{"field":"m","type":"quantitative","axis":{"orient":"top","offset":-30,"labels":false,"ticks":false,"grid":false,"title":null,"values":[]}},
        "y":{"field":"temp","type":"quantitative","axis":{"orient":"right","offset":-140,"labels":false,"ticks":false,"grid":false,"title":null,"values":[]}},
        "shape":{"field":"series","type":"nominal","scale":{"domain":["Base load","Peak cool load","Peak heat load"],"range":["square","M-1,0H1M0,-1V1","circle"]},"legend":{"orient":"none","legendX":390,"legendY":30,"title":null}},
        "fill":{"field":"series","type":"nominal","scale":{"domain":["Base load","Peak cool load","Peak heat load"],"range":["#ff0000","#0000ff","#00703c"]},"legend":{"orient":"none","legendX":390,"legendY":30,"title":null}},
        "stroke":{"field":"series","type":"nominal","scale":{"domain":["Base load","Peak cool load","Peak heat load"],"range":["#000000","#0000ff","#000000"]},"legend":{"orient":"none","legendX":390,"legendY":30,"title":null}},
        "size":{"field":"series","type":"nominal","scale":{"type":"ordinal","domain":["Base load","Peak cool load","Peak heat load"],"range":[42,64,14]},"legend":{"orient":"none","legendX":390,"legendY":30,"title":null}}}}
     ],
     "resolve":{"axis":{"x":"independent","y":"independent"}}}
   ]}
  ]},
  {"spacing":28,"resolve":{"scale":{"color":"independent","fill":"independent","stroke":"independent","shape":"independent","size":"independent","strokeDash":"independent","strokeWidth":"independent"}},"hconcat":[
   {"width":2,"height":321,"view":{"fill":"black"},"data":{"values":[]},"mark":"rect","encoding":{}},
   {"spacing":0,"resolve":{"scale":{"color":"independent","fill":"independent","stroke":"independent","shape":"independent","size":"independent","strokeDash":"independent","strokeWidth":"independent"}},"vconcat":[
    {"width":514,"height":32,"data":{"values":[{"t":"Minimum and maximum fluid temperature"}]},"mark":{"type":"text","font":"Liberation Serif","fontStyle":"italic","fontSize":27,"color":"black","dy":3},"encoding":{"text":{"field":"t"}}},
    {"width":514,"height":257,
     "view":{"fill":{"gradient":"linear","x1":0,"y1":0,"x2":0,"y2":1,"stops":[{"offset":0,"color":"#8080ff"},{"offset":1,"color":"#fdfdff"}]},"stroke":"#a6a6a6"},
     "data":{"name":"y3"},
     "transform":[{"fold":["Peak min","Peak max","Base min","Base max"],"as":["series","temp"]}],
     "layer":[
      {"mark":{"type":"line"},
       "encoding":{
        "x":{"field":"yr","type":"quantitative","scale":{"domain":[0.66,25.23],"range":[52,403],"nice":false,"zero":false},
         "axis":{"orient":"bottom","offset":-45,"title":"Year","values":[1.25,2.5,3.75,5,6.25,7.5,8.75,10,11.25,12.5,13.75,15,16.25,17.5,18.75,20,21.25,22.5,23.75,25],"labelExpr":"datum.value % 5 == 0 ? datum.label : ''","tickSize":{"condition":{"test":"datum.value % 5 != 0","value":2},"value":4},"gridOpacity":{"condition":{"test":"datum.value % 5 != 0","value":0},"value":1}}},
        "y":{"field":"temp","type":"quantitative","scale":{"domain":[3.9,48.2],"range":[212,30],"nice":false,"zero":false},
         "axis":{"orient":"left","offset":-52,"title":"Annual min-max fluid temp. [°C]","values":[5,6.25,7.5,8.75,10,11.25,12.5,13.75,15,16.25,17.5,18.75,20,21.25,22.5,23.75,25,26.25,27.5,28.75,30,31.25,32.5,33.75,35,36.25,37.5,38.75,40,41.25,42.5,43.75,45,46.25,47.5],"labelExpr":"datum.value % 5 == 0 ? datum.label : ''","tickSize":{"condition":{"test":"datum.value % 5 != 0","value":2},"value":4},"gridOpacity":{"condition":{"test":"datum.value % 5 != 0","value":0},"value":1}}},
        "color":{"field":"series","type":"nominal","scale":{"domain":["Base max","Base min","Peak max","Peak min"],"range":["#ff8000","#008040","#0000ff","#ff0000"]},"legend":{"orient":"none","legendX":422,"legendY":34,"title":null,"fillColor":"black","strokeColor":"black","labelExpr":"''","symbolType":"square","symbolSize":151,"symbolFillColor":"black","symbolStrokeWidth":0,"labelOffset":55}},
        "strokeDash":{"field":"series","type":"nominal","scale":{"domain":["Base max","Base min","Peak max","Peak min"],"range":[[1,0],[4,2],[1,2],[1,0]]},"legend":{"orient":"none","legendX":422,"legendY":34,"title":null,"fillColor":"black","strokeColor":"black","labelExpr":"''","symbolType":"square","symbolSize":151,"symbolFillColor":"black","symbolStrokeWidth":0,"labelOffset":55}},
        "strokeWidth":{"field":"series","type":"nominal","scale":{"type":"ordinal","domain":["Peak max","Peak min","Base min","Base max"],"range":[0.8,1.6,1.2,1.4]},"legend":null}}},
      {"mark":{"type":"point","filled":true,"opacity":1,"strokeWidth":1},
       "encoding":{
        "x":{"field":"yr","type":"quantitative","axis":{"orient":"top","offset":-30,"labels":false,"ticks":false,"grid":false,"title":null,"values":[]}},
        "y":{"field":"temp","type":"quantitative","axis":{"orient":"right","offset":-111,"labels":false,"ticks":false,"grid":false,"title":null,"values":[]}},
        "shape":{"field":"series","type":"nominal","scale":{"domain":["Peak min","Peak max","Base min","Base max"],"range":["square","M-1,0H1M0,-1V1","circle","diamond"]},"legend":{"orient":"none","legendX":418,"legendY":30,"title":null}},
        "fill":{"field":"series","type":"nominal","scale":{"domain":["Peak min","Peak max","Base min","Base max"],"range":["#ff0000","#0000ff","#00703c","#ff9900"]},"legend":{"orient":"none","legendX":418,"legendY":30,"title":null}},
        "stroke":{"field":"series","type":"nominal","scale":{"domain":["Peak min","Peak max","Base min","Base max"],"range":["#000000","#0000ff","#000000","#000000"]},"legend":{"orient":"none","legendX":418,"legendY":30,"title":null}},
        "size":{"field":"series","type":"nominal","scale":{"type":"ordinal","domain":["Peak min","Peak max","Base min","Base max"],"range":[42,64,14,60]},"legend":{"orient":"none","legendX":418,"legendY":30,"title":null}}}}
     ],
     "resolve":{"axis":{"x":"independent","y":"independent"}}}
   ]}
  ]}
 ]},
 {"width":1143,"height":31,"view":{"fill":"#d9d9d9","stroke":"black","strokeWidth":2},"data":{"values":[{"t":"Second attempt, borehole spacing= 7m"}]},"mark":{"type":"text","font":"Liberation Serif","fontStyle":"italic","fontSize":27,"color":"black"},"encoding":{"text":{"field":"t"}}},
 {"spacing":30,"resolve":{"scale":{"color":"independent","fill":"independent","stroke":"independent","shape":"independent","size":"independent","strokeDash":"independent","strokeWidth":"independent"}},
  "hconcat":[
  {"spacing":26,"resolve":{"scale":{"color":"independent","fill":"independent","stroke":"independent","shape":"independent","size":"independent","strokeDash":"independent","strokeWidth":"independent"}},"hconcat":[
   {"width":2,"height":319,"view":{"fill":"black"},"data":{"values":[]},"mark":"rect","encoding":{}},
   {"spacing":0,"resolve":{"scale":{"color":"independent","fill":"independent","stroke":"independent","shape":"independent","size":"independent","strokeDash":"independent","strokeWidth":"independent"}},"vconcat":[
    {"width":514,"height":34,"data":{"values":[{"t":"Fluid temperature chart"}]},"mark":{"type":"text","font":"Liberation Serif","fontStyle":"italic","fontSize":27,"color":"black","dy":3},"encoding":{"text":{"field":"t"}}},
    {"width":514,"height":257,
     "view":{"fill":{"gradient":"linear","x1":0,"y1":0,"x2":0,"y2":1,"stops":[{"offset":0,"color":"#8080ff"},{"offset":1,"color":"#fdfdff"}]},"stroke":"#a6a6a6"},
     "data":{"name":"m4"},
     "transform":[{"fold":["Base load","Peak cool load","Peak heat load"],"as":["series","temp"]}],
     "layer":[
      {"mark":{"type":"line"},
       "encoding":{
        "x":{"field":"m","type":"quantitative","scale":{"domain":[0.86,12.16],"range":[52,375],"nice":false,"zero":false},
         "axis":{"orient":"bottom","offset":-45,"title":"Year 25","values":[1,1.25,1.5,1.75,2,2.25,2.5,2.75,3,3.25,3.5,3.75,4,4.25,4.5,4.75,5,5.25,5.5,5.75,6,6.25,6.5,6.75,7,7.25,7.5,7.75,8,8.25,8.5,8.75,9,9.25,9.5,9.75,10,10.25,10.5,10.75,11,11.25,11.5,11.75,12],"labelExpr":"datum.value % 1 == 0 ? ['JAN','FEB','MAR','APR','MAY','JUN','JUL','AUG','SEP','OCT','NOV','DEC'][datum.value - 1] : ''","tickSize":{"condition":{"test":"datum.value % 1 != 0","value":2},"value":4},"gridOpacity":{"condition":{"test":"datum.value % 1 != 0","value":0},"value":1}}},
        "y":{"field":"temp","type":"quantitative","scale":{"domain":[4.2,41.0],"range":[212,30],"nice":false,"zero":false},
         "axis":{"orient":"left","offset":-52,"title":"Fluid temperature [°C]","values":[5,6.25,7.5,8.75,10,11.25,12.5,13.75,15,16.25,17.5,18.75,20,21.25,22.5,23.75,25,26.25,27.5,28.75,30,31.25,32.5,33.75,35,36.25,37.5,38.75,40],"labelExpr":"datum.value % 5 == 0 ? datum.label : ''","tickSize":{"condition":{"test":"datum.value % 5 != 0","value":2},"value":4},"gridOpacity":{"condition":{"test":"datum.value % 5 != 0","value":0},"value":1}}},
        "color":{"field":"series","type":"nominal","scale":{"domain":["Peak heat load","Peak cool load","Base load"],"range":["#008040","#0000ff","#ff0000"]},"legend":{"orient":"none","legendX":393,"legendY":35,"title":null,"fillColor":"black","strokeColor":"black","labelExpr":"''","symbolType":"square","symbolSize":151,"symbolFillColor":"black","symbolStrokeWidth":0,"labelOffset":83}},
        "strokeDash":{"field":"series","type":"nominal","scale":{"domain":["Peak heat load","Peak cool load","Base load"],"range":[[4,2],[1,2],[1,0]]},"legend":{"orient":"none","legendX":393,"legendY":35,"title":null,"fillColor":"black","strokeColor":"black","labelExpr":"''","symbolType":"square","symbolSize":151,"symbolFillColor":"black","symbolStrokeWidth":0,"labelOffset":83}},
        "strokeWidth":{"field":"series","type":"nominal","scale":{"type":"ordinal","domain":["Peak cool load","Base load","Peak heat load"],"range":[0.8,1.6,1.2]},"legend":null}}},
      {"mark":{"type":"point","filled":true,"opacity":1,"strokeWidth":1},
       "encoding":{
        "x":{"field":"m","type":"quantitative","axis":{"orient":"top","offset":-30,"labels":false,"ticks":false,"grid":false,"title":null,"values":[]}},
        "y":{"field":"temp","type":"quantitative","axis":{"orient":"right","offset":-139,"labels":false,"ticks":false,"grid":false,"title":null,"values":[]}},
        "shape":{"field":"series","type":"nominal","scale":{"domain":["Base load","Peak cool load","Peak heat load"],"range":["square","M-1,0H1M0,-1V1","circle"]},"legend":{"orient":"none","legendX":389,"legendY":31,"title":null}},
        "fill":{"field":"series","type":"nominal","scale":{"domain":["Base load","Peak cool load","Peak heat load"],"range":["#ff0000","#0000ff","#00703c"]},"legend":{"orient":"none","legendX":389,"legendY":31,"title":null}},
        "stroke":{"field":"series","type":"nominal","scale":{"domain":["Base load","Peak cool load","Peak heat load"],"range":["#000000","#0000ff","#000000"]},"legend":{"orient":"none","legendX":389,"legendY":31,"title":null}},
        "size":{"field":"series","type":"nominal","scale":{"type":"ordinal","domain":["Base load","Peak cool load","Peak heat load"],"range":[42,64,14]},"legend":{"orient":"none","legendX":389,"legendY":31,"title":null}}}}
     ],
     "resolve":{"axis":{"x":"independent","y":"independent"}}}
   ]}
  ]},
  {"spacing":27,"resolve":{"scale":{"color":"independent","fill":"independent","stroke":"independent","shape":"independent","size":"independent","strokeDash":"independent","strokeWidth":"independent"}},"hconcat":[
   {"width":2,"height":319,"view":{"fill":"black"},"data":{"values":[]},"mark":"rect","encoding":{}},
   {"spacing":0,"resolve":{"scale":{"color":"independent","fill":"independent","stroke":"independent","shape":"independent","size":"independent","strokeDash":"independent","strokeWidth":"independent"}},"vconcat":[
    {"width":517,"height":34,"data":{"values":[{"t":"Minimum and maximum fluid temperature"}]},"mark":{"type":"text","font":"Liberation Serif","fontStyle":"italic","fontSize":27,"color":"black","dy":3},"encoding":{"text":{"field":"t"}}},
    {"width":517,"height":262,
     "view":{"fill":{"gradient":"linear","x1":0,"y1":0,"x2":0,"y2":1,"stops":[{"offset":0,"color":"#8080ff"},{"offset":1,"color":"#fdfdff"}]},"stroke":"#a6a6a6"},
     "data":{"name":"y4"},
     "transform":[{"fold":["Peak min","Peak max","Base min","Base max"],"as":["series","temp"]}],
     "layer":[
      {"mark":{"type":"line"},
       "encoding":{
        "x":{"field":"yr","type":"quantitative","scale":{"domain":[0.6,25.25],"range":[51,405],"nice":false,"zero":false},
         "axis":{"orient":"bottom","offset":-49,"title":"Year","values":[1.25,2.5,3.75,5,6.25,7.5,8.75,10,11.25,12.5,13.75,15,16.25,17.5,18.75,20,21.25,22.5,23.75,25],"labelExpr":"datum.value % 5 == 0 ? datum.label : ''","tickSize":{"condition":{"test":"datum.value % 5 != 0","value":2},"value":4},"gridOpacity":{"condition":{"test":"datum.value % 5 != 0","value":0},"value":1}}},
        "y":{"field":"temp","type":"quantitative","scale":{"domain":[3.95,47.8],"range":[213,28],"nice":false,"zero":false},
         "axis":{"orient":"left","offset":-51,"title":"Annual min-max fluid temp. [°C]","values":[5,6.25,7.5,8.75,10,11.25,12.5,13.75,15,16.25,17.5,18.75,20,21.25,22.5,23.75,25,26.25,27.5,28.75,30,31.25,32.5,33.75,35,36.25,37.5,38.75,40,41.25,42.5,43.75,45,46.25,47.5],"labelExpr":"datum.value % 5 == 0 ? datum.label : ''","tickSize":{"condition":{"test":"datum.value % 5 != 0","value":2},"value":4},"gridOpacity":{"condition":{"test":"datum.value % 5 != 0","value":0},"value":1}}},
        "color":{"field":"series","type":"nominal","scale":{"domain":["Base max","Base min","Peak max","Peak min"],"range":["#ff8000","#008040","#0000ff","#ff0000"]},"legend":{"orient":"none","legendX":423,"legendY":33,"title":null,"fillColor":"black","strokeColor":"black","labelExpr":"''","symbolType":"square","symbolSize":151,"symbolFillColor":"black","symbolStrokeWidth":0,"labelOffset":55}},
        "strokeDash":{"field":"series","type":"nominal","scale":{"domain":["Base max","Base min","Peak max","Peak min"],"range":[[1,0],[4,2],[1,2],[1,0]]},"legend":{"orient":"none","legendX":423,"legendY":33,"title":null,"fillColor":"black","strokeColor":"black","labelExpr":"''","symbolType":"square","symbolSize":151,"symbolFillColor":"black","symbolStrokeWidth":0,"labelOffset":55}},
        "strokeWidth":{"field":"series","type":"nominal","scale":{"type":"ordinal","domain":["Peak max","Peak min","Base min","Base max"],"range":[0.8,1.6,1.2,1.4]},"legend":null}}},
      {"mark":{"type":"point","filled":true,"opacity":1,"strokeWidth":1},
       "encoding":{
        "x":{"field":"yr","type":"quantitative","axis":{"orient":"top","offset":-28,"labels":false,"ticks":false,"grid":false,"title":null,"values":[]}},
        "y":{"field":"temp","type":"quantitative","axis":{"orient":"right","offset":-112,"labels":false,"ticks":false,"grid":false,"title":null,"values":[]}},
        "shape":{"field":"series","type":"nominal","scale":{"domain":["Peak min","Peak max","Base min","Base max"],"range":["square","M-1,0H1M0,-1V1","circle","diamond"]},"legend":{"orient":"none","legendX":419,"legendY":29,"title":null}},
        "fill":{"field":"series","type":"nominal","scale":{"domain":["Peak min","Peak max","Base min","Base max"],"range":["#ff0000","#0000ff","#00703c","#ff9900"]},"legend":{"orient":"none","legendX":419,"legendY":29,"title":null}},
        "stroke":{"field":"series","type":"nominal","scale":{"domain":["Peak min","Peak max","Base min","Base max"],"range":["#000000","#0000ff","#000000","#000000"]},"legend":{"orient":"none","legendX":419,"legendY":29,"title":null}},
        "size":{"field":"series","type":"nominal","scale":{"type":"ordinal","domain":["Peak min","Peak max","Base min","Base max"],"range":[42,64,14,60]},"legend":{"orient":"none","legendX":419,"legendY":29,"title":null}}}}
     ],
     "resolve":{"axis":{"x":"independent","y":"independent"}}}
   ]}
  ]}
 ]}
]
}
